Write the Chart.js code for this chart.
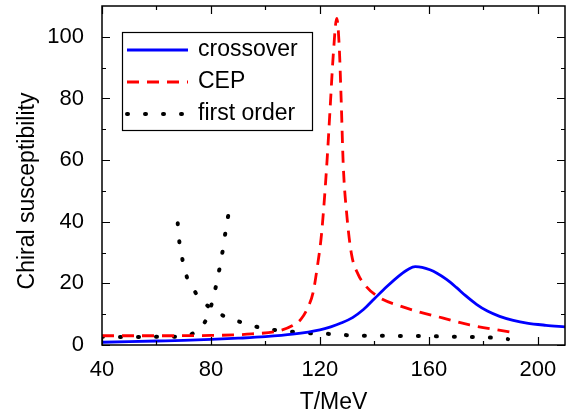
<!DOCTYPE html>
<html>
<head>
<meta charset="utf-8">
<script src="https://cdn.jsdelivr.net/npm/chart.js@4"></script>
<style>
  html, body { margin: 0; padding: 0; background: #fff; }
  #wrap { width: 574px; height: 418px; }
</style>
</head>
<body>
<div id="wrap"><canvas id="chiChart" width="574" height="418"></canvas></div>
<script>
// crossover (blue solid)
const crossT   = [40, 50, 60, 70, 80, 90, 100, 110, 120, 124, 128, 132, 136, 140, 144.5, 149.4, 152.5, 155, 157.5, 160.4, 163, 166.5, 170.2, 173.5, 177.5, 181.5, 186, 191, 196, 203, 210];
const crossChi = [0.9, 1.1, 1.3, 1.5, 1.8, 2.2, 2.7, 3.5, 4.9, 5.9, 7.2, 8.9, 11.5, 15.0, 18.9, 22.7, 24.6, 25.4, 25.2, 24.4, 23.3, 21.3, 18.6, 16.0, 13.2, 11.0, 9.3, 8.0, 7.1, 6.4, 5.9];

// critical end point (red dashed)
const cepT   = [40, 60, 80, 95, 105, 110, 113, 115.5, 117.5, 119, 120.6, 122.5, 123.9, 124.9, 126.2, 127.1, 127.8, 128.6, 129.8, 131.6, 134, 137, 142, 149, 157, 165, 175, 190];
const cepChi = [3.0, 3.0, 3.1, 3.6, 4.6, 6.3, 8.3, 12, 17, 25, 36, 58, 79, 94, 106, 97, 80, 58, 43, 29.5, 23, 19, 15.3, 12.8, 10.6, 8.8, 6.5, 4.2];

// first order, two branches (black dotted)
const foHighT   = [67.8, 68.4, 69.5, 71.1, 74.1, 78.4, 84.1, 90.3, 96.8, 103.2, 110, 116.7, 123.4, 129.8, 136.5, 143, 149.7, 156.3, 163, 169.5, 176, 183, 189.1];
const foHighChi = [39.5, 33.5, 27.9, 22.2, 17.3, 13.0, 9.7, 7.6, 5.9, 4.9, 4.3, 3.8, 3.6, 3.2, 3.0, 3.0, 2.9, 2.9, 2.8, 2.7, 2.6, 2.4, 1.9];
const foLowT    = [40, 50, 60, 65, 70, 73, 76, 78, 79.3, 81.1, 82.5, 83.8, 84.8, 85.8, 87];
const foLowChi  = [2.7, 2.6, 2.7, 2.7, 2.9, 3.6, 5.2, 7.8, 10.5, 16.2, 22, 27.8, 33.5, 39.3, 45.1];

const xTicks = [40, 80, 120, 160, 200];
const yTicks = [0, 20, 40, 60, 80, 100];
const xMinor = [60, 100, 140, 180];
const yMinor = [10, 30, 50, 70, 90];

const FONT = '"Liberation Sans", Arial, sans-serif';

function pts(xs, ys) {
  return xs.map((x, i) => ({ x: x, y: ys[i] }));
}

const blueStyle  = { borderColor: '#0000ff', borderWidth: 2.8, borderDash: [] };
const redStyle   = { borderColor: '#ff0000', borderWidth: 2.8, borderDash: [12, 8] };
const blackStyle = { borderColor: '#000000', borderWidth: 4, borderDash: [1, 17], borderCapStyle: 'round' };

// frame, inward ticks on all four sides, y title and boxed legend
const decorations = {
  id: 'decorations',
  afterDraw(chart) {
    const ctx = chart.ctx;
    const a = chart.chartArea;
    const xs = chart.scales.x, ys = chart.scales.y;
    ctx.save();
    ctx.strokeStyle = '#000';
    ctx.lineWidth = 1.5;
    ctx.strokeRect(a.left, a.top, a.right - a.left, a.bottom - a.top);

    ctx.lineWidth = 1.2;
    ctx.beginPath();
    const tickX = (v, len) => {
      const p = Math.round(xs.getPixelForValue(v)) + 0.5;
      ctx.moveTo(p, a.bottom); ctx.lineTo(p, a.bottom - len);
      ctx.moveTo(p, a.top); ctx.lineTo(p, a.top + len);
    };
    const tickY = (v, len) => {
      const p = Math.round(ys.getPixelForValue(v)) + 0.5;
      ctx.moveTo(a.left, p); ctx.lineTo(a.left + len, p);
      ctx.moveTo(a.right, p); ctx.lineTo(a.right - len, p);
    };
    xTicks.forEach(v => tickX(v, 8));
    xMinor.forEach(v => tickX(v, 4));
    yTicks.forEach(v => tickY(v, 8));
    yMinor.forEach(v => tickY(v, 4));
    ctx.stroke();

    // y axis title
    ctx.save();
    ctx.translate(28, 191);
    ctx.rotate(-Math.PI / 2);
    ctx.fillStyle = '#000';
    ctx.font = '23px ' + FONT;
    ctx.textAlign = 'center';
    ctx.textBaseline = 'middle';
    ctx.fillText('Chiral susceptibility', 0, 0);
    ctx.restore();

    // legend
    const box = { x: 122.5, y: 32.5, w: 190, h: 98 };
    ctx.fillStyle = '#fff';
    ctx.fillRect(box.x, box.y, box.w, box.h);
    ctx.lineWidth = 1.2;
    ctx.strokeStyle = '#000';
    ctx.setLineDash([]);
    ctx.strokeRect(box.x, box.y, box.w, box.h);
    const rows = [
      { label: 'crossover', style: blueStyle, y: 50 },
      { label: 'CEP', style: redStyle, y: 82 },
      { label: 'first order', style: blackStyle, y: 114 }
    ];
    rows.forEach(r => {
      ctx.beginPath();
      ctx.strokeStyle = r.style.borderColor;
      ctx.lineWidth = r.style.borderWidth;
      ctx.lineCap = r.style.borderCapStyle || 'butt';
      ctx.setLineDash(r.style.borderDash);
      ctx.moveTo(127, r.y);
      ctx.lineTo(188, r.y);
      ctx.stroke();
      ctx.setLineDash([]);
      ctx.fillStyle = '#000';
      ctx.font = '23px ' + FONT;
      ctx.textAlign = 'left';
      ctx.textBaseline = 'middle';
      ctx.fillText(r.label, 198, r.y);
    });
    ctx.restore();
  }
};

new Chart(document.getElementById('chiChart'), {
  type: 'line',
  data: {
    datasets: [
      Object.assign({ label: 'crossover', data: pts(crossT, crossChi) }, blueStyle),
      Object.assign({ label: 'CEP', data: pts(cepT, cepChi) }, redStyle),
      Object.assign({ label: 'first order', data: pts(foHighT, foHighChi) }, blackStyle),
      Object.assign({ label: 'first order', data: pts(foLowT, foLowChi) }, blackStyle)
    ]
  },
  options: {
    responsive: false,
    animation: false,
    layout: { padding: { top: 6, right: 9, left: 0, bottom: 0 } },
    elements: {
      point: { radius: 0 },
      line: { cubicInterpolationMode: 'monotone', fill: false }
    },
    plugins: {
      legend: { display: false },
      tooltip: { enabled: false }
    },
    scales: {
      x: {
        type: 'linear',
        min: 40,
        max: 210,
        afterBuildTicks: s => { s.ticks = xTicks.map(v => ({ value: v })); },
        afterFit: s => { s.height = 73; s.paddingLeft = 0; s.paddingRight = 0; },
        grid: { display: false },
        border: { display: false },
        ticks: { color: '#000', padding: 4, font: { family: FONT, size: 22 } },
        title: {
          display: true,
          text: 'T/MeV',
          color: '#000',
          font: { family: FONT, size: 23 },
          padding: { top: 0, bottom: 2 }
        }
      },
      y: {
        type: 'linear',
        min: 0,
        max: 110,
        afterBuildTicks: s => { s.ticks = yTicks.map(v => ({ value: v })); },
        afterFit: s => { s.width = 102; s.paddingTop = 0; s.paddingBottom = 0; },
        grid: { display: false },
        border: { display: false },
        ticks: { color: '#000', padding: 10, font: { family: FONT, size: 22 } }
      }
    }
  },
  plugins: [decorations]
});
</script>
</body>
</html>
